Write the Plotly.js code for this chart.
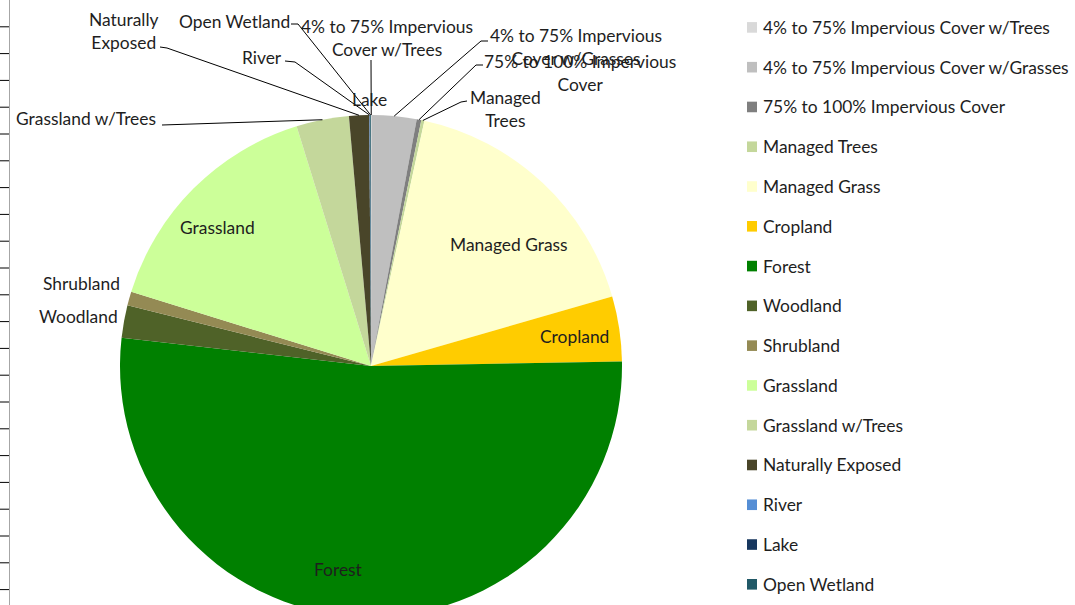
<!DOCTYPE html>
<html><head><meta charset="utf-8">
<script src="https://cdn.plot.ly/plotly-3.0.1.min.js"></script>
<style>html,body{margin:0;padding:0;overflow:hidden;background:#fff}#chart{width:1075px;height:620px}</style>
</head><body><div id="chart"></div>
<script>
// ---- data ----
const labels = ["4% to 75% Impervious Cover w/Trees","4% to 75% Impervious Cover w/Grasses","75% to 100% Impervious Cover","Managed Trees","Managed Grass","Cropland","Forest","Woodland","Shrubland","Grassland","Grassland w/Trees","Naturally Exposed","River","Lake","Open Wetland"];
const values = [0.03, 2.9, 0.3, 0.2, 17.2, 4.2, 52.3, 2.1, 0.9, 15.5, 3.4, 1.3, 0.03, 0.03, 0.05];
const colors = ["#d9d9d9","#bfbfbf","#7f7f7f","#c4d79b","#ffffcc","#ffcc00","#008000","#4f6228","#948a54","#ccff99","#c4d79b","#494529","#558ed5","#17375e","#215967"];

// ---- layout constants (pixels) ----
const W = 1075, H = 620;
const CX = 371, CY = 366, R = 251;
const FONT = "Lato, 'Open Sans', sans-serif";
const FS = 17.4;
const TXT = "#1e1e1e";
const px = x => x / W;
const py = y => 1 - y / H;

// label placement: centre of text block, words on first line, leader elbow points
const labelLayout = {
  "4% to 75% Impervious Cover w/Trees": {x:387, y:38, br:4, leader:[[371,60]]},
  "4% to 75% Impervious Cover w/Grasses": {x:576, y:47, br:4, leader:[[488,41],[481,41]]},
  "75% to 100% Impervious Cover": {x:580, y:73, br:4, leader:[[483,65],[476,65]]},
  "Managed Trees": {x:505, y:109, br:1, leader:[[467,101],[461,102]]},
  "Managed Grass": {x:509, y:244},
  "Cropland": {x:574, y:336},
  "Forest": {x:338, y:569},
  "Woodland": {x:78, y:317},
  "Shrubland": {x:81, y:283},
  "Grassland": {x:217, y:228},
  "Grassland w/Trees": {x:86, y:119, leader:[[162,125]]},
  "Naturally Exposed": {x:124, y:31, br:1, leader:[[160,47],[167,48]]},
  "River": {x:262, y:58, leader:[[285,61],[295,62]]},
  "Lake": {x:369, y:100},
  "Open Wetland": {x:234, y:21, leader:[[291,24],[298,24]]}
};

const total = values.reduce((a,b)=>a+b,0);
let cum = 0;
const annotations = [];
const shapes = [];

labels.forEach((lab, i) => {
  const mid = (cum + values[i]/2) / total * 2*Math.PI;
  cum += values[i];
  const ax = CX + R*Math.sin(mid), ay = CY - R*Math.cos(mid);
  const L = labelLayout[lab];
  let text = lab;
  if (L.br) { const w = lab.split(" "); text = w.slice(0,L.br).join(" ") + "<br>" + w.slice(L.br).join(" "); }
  annotations.push({xref:"paper", yref:"paper", x:px(L.x), y:py(L.y), xanchor:"center", yanchor:"middle",
    text:text, showarrow:false, align:"center", font:{family:FONT, size:FS, color:TXT}});
  if (L.leader) {
    const pts = L.leader.concat([[ax, ay]]);
    const path = pts.map((p,k)=> (k? "L ":"M ") + px(p[0]) + "," + py(p[1])).join(" ");
    shapes.push({type:"path", xref:"paper", yref:"paper", path:path, line:{color:"#000", width:1}, layer:"above"});
  }
  // manual legend
  const yc = 27.4 + 39.78*i;
  shapes.push({type:"rect", xref:"paper", yref:"paper", x0:px(747), x1:px(757), y0:py(yc+5.3), y1:py(yc-5.3),
    fillcolor:colors[i], line:{width:0}});
  annotations.push({xref:"paper", yref:"paper", x:px(760.5), y:py(yc), xanchor:"left", yanchor:"middle",
    text:lab, showarrow:false, font:{family:FONT, size:FS, color:TXT}});
});

// spreadsheet-edge artefact on the left
shapes.push({type:"line", xref:"paper", yref:"paper", x0:px(9.5), x1:px(9.5), y0:0, y1:1, line:{color:"#a6a6a6", width:1}});
for (let k = 1; k*26.8 < H; k++) {
  shapes.push({type:"line", xref:"paper", yref:"paper", x0:0, x1:px(9), y0:py(k*26.8), y1:py(k*26.8), line:{color:"#000", width:1}});
}

const trace = {
  type:"pie", labels:labels, values:values, sort:false, direction:"clockwise", rotation:0,
  marker:{colors:colors, line:{width:0}}, textinfo:"none", hoverinfo:"label+percent",
  showlegend:false,
  domain:{x:[px(CX-R), px(CX+R)], y:[py(CY+R), py(CY-R)]}
};

Plotly.newPlot("chart", [trace], {
  width:W, height:H, margin:{l:0,r:0,t:0,b:0}, paper_bgcolor:"#fff",
  showlegend:false, annotations:annotations, shapes:shapes, font:{family:FONT}
}, {displayModeBar:false, staticPlot:true});
</script></body></html>
